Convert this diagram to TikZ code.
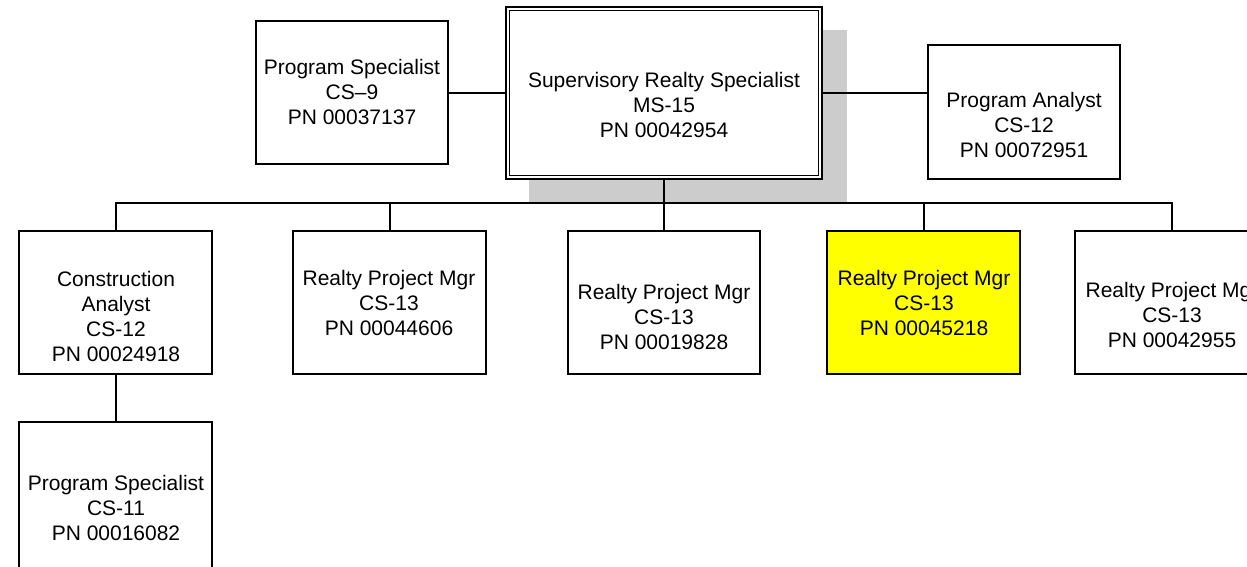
\documentclass[tikz,border=0pt]{standalone}
\usepackage{fontspec}
\setmainfont{Liberation Sans}
\definecolor{shadowgray}{RGB}{204,204,204}
\definecolor{hiyellow}{RGB}{255,255,0}
\begin{document}
\begin{tikzpicture}[x=1pt,y=-1pt,
  box/.style={draw=black, line width=2.2pt, fill=white, rectangle, inner sep=0pt,
              minimum width=192pt, minimum height=143pt},
  txt/.style={inner sep=0pt, align=center, font=\fontsize{21}{25}\selectfont},
  conn/.style={line width=2pt, draw=black}]
\useasboundingbox (0,0) rectangle (1247,566);
\clip (0,0) rectangle (1247,566);

% shadow of the supervisor box
\fill[shadowgray] (529,30) rectangle (847,202);

% boxes
\node[box, minimum height=143pt] (ps9) at (352,92.5) {};
\node[draw=black, fill=white, line width=1.4pt, double, double distance=2.2pt,
      inner sep=0pt, minimum width=312.4pt, minimum height=168.4pt] (sup) at (664,93) {};
\node[box, minimum height=134pt] (pa) at (1024,112) {};
\node[box, minimum width=193pt] (ca) at (115.5,302.5) {};
\node[box, minimum width=193pt] (r1) at (389.5,302.5) {};
\node[box] (r2) at (664,302.5) {};
\node[box, fill=hiyellow, minimum width=193pt] (r3) at (923.5,302.5) {};
\node[box, minimum width=193pt] (r5) at (1171.5,302.5) {};
\node[box, minimum width=193pt, minimum height=160pt] (ps11) at (115.5,502) {};

% texts
\node[txt] (tps9) at (352,92) {Program Specialist\\CS–9\\PN 00037137};
\node[txt] (tsup) at (664,105) {Supervisory Realty Specialist\\MS-15\\PN 00042954};
\node[txt] (tpa) at (1024,125) {Program Analyst\\CS-12\\PN 00072951};
\node[txt] (tca) at (116,316) {Construction\\Analyst\\CS-12\\PN 00024918};
\node[txt] (tr1) at (389,303) {Realty Project Mgr\\CS-13\\PN 00044606};
\node[txt] (tr2) at (664,317) {Realty Project Mgr\\CS-13\\PN 00019828};
\node[txt] (tr3) at (924,303) {Realty Project Mgr\\CS-13\\PN 00045218};
\node[txt] (tr5) at (1172,315) {Realty Project Mgr\\CS-13\\PN 00042955};
\node[txt] (tps11) at (116,508) {Program Specialist\\CS-11\\PN 00016082};

% connectors
\coordinate (bus) at (0,202.5);
\draw[conn] (ps9.east) -- (sup.west |- ps9.east);
\draw[conn] (sup.east |- pa.west) ++(0,-19) coordinate (supR) -- (supR -| pa.west);
\draw[conn] (sup.south) -- (sup.south |- bus);
\draw[conn] (ca.north) -- (ca.north |- bus) -- (r5.north |- bus) -- (r5.north);
\draw[conn] (r1.north) -- (r1.north |- bus);
\draw[conn] (r2.north) -- (r2.north |- bus);
\draw[conn] (r3.north) -- (r3.north |- bus);
\draw[conn] (ca.south) -- (ps11.north);
\end{tikzpicture}
\end{document}
